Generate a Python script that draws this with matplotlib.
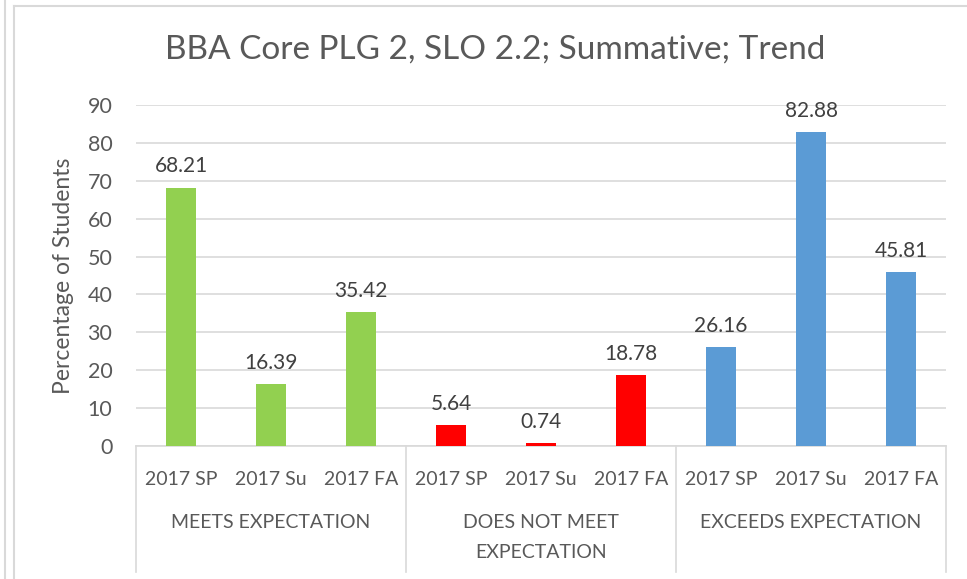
import matplotlib
matplotlib.use("Agg")
import matplotlib.pyplot as plt
from matplotlib.lines import Line2D
import numpy as np

plt.rcParams['font.family'] = ['Lato', 'DejaVu Sans']

# ------------------ DATA ------------------
groups = ["MEETS EXPECTATION", "DOES NOT MEET\nEXPECTATION", "EXCEEDS EXPECTATION"]
terms = ["2017 SP", "2017 Su", "2017 FA"]
meets = [68.21, 16.39, 35.42]
not_meet = [5.64, 0.74, 18.78]
exceeds = [26.16, 82.88, 45.81]
colors = ["#92D050", "#FF0000", "#5B9BD5"]
# ------------------------------------------

txt = "#595959"
grid = "#D9D9D9"

fig = plt.figure(figsize=(9.67, 5.79), dpi=100)
W, H = 967, 579
ax = fig.add_axes([136 / W, (H - 446) / H, (946 - 136) / W, (446 - 105) / H])

series = [meets, not_meet, exceeds]
x = 0
for vals, col in zip(series, colors):
    pos = np.arange(x, x + len(vals))
    bars = ax.bar(pos, vals, width=0.34, color=col, zorder=3)
    for b, v in zip(bars, vals):
        ax.annotate(f"{v:.2f}", (b.get_x() + b.get_width() / 2, v),
                    xytext=(0, 8), textcoords="offset points",
                    ha="center", va="bottom", fontsize=15, color="#404040")
    x += len(vals)

n = x
ax.set_xlim(-0.5, n - 0.5)
ax.set_ylim(0, 90)
ax.set_yticks(range(0, 91, 10))
ax.yaxis.grid(True, color=grid, linewidth=1.2, zorder=0)
ax.tick_params(axis="y", length=0, labelsize=15.5, labelcolor=txt, pad=17)
ax.set_xticks(range(n))
ax.set_xticklabels(terms * len(series), fontsize=14, color=txt)
ax.tick_params(axis="x", length=0, pad=18)
for s in ["top", "right", "left"]:
    ax.spines[s].set_visible(False)
ax.spines["bottom"].set_color(grid)
ax.spines["bottom"].set_linewidth(1.2)

ax.set_ylabel("Percentage of Students", fontsize=16.5, color=txt, labelpad=10)

# multi-level category axis
trans = ax.get_xaxis_transform()
bottom = -(572 - 446) / (446 - 105)
for k in range(len(series) + 1):
    xs = k * 3 - 0.5
    ax.add_line(Line2D([xs, xs], [0, bottom], transform=trans, color=grid,
                       linewidth=1.2, clip_on=False))
for k, g in enumerate(groups):
    ax.text(k * 3 + 1, -(514 - 446) / (446 - 105), g, transform=trans,
            ha="center", va="top", fontsize=14, color=txt, linespacing=1.9)

fig.text(495 / W, 1 - 50 / H, "BBA Core PLG 2, SLO 2.2; Summative; Trend",
         ha="center", va="center", fontsize=24, color=txt)

# chart border
fig.add_artist(Line2D([14 / W, 14 / W], [0, 1 - 6 / H], color=grid, linewidth=1.5))
fig.add_artist(Line2D([14 / W, 1], [1 - 6 / H, 1 - 6 / H], color=grid, linewidth=1.5))
fig.add_artist(Line2D([5 / W, 5 / W], [0, 1], color=grid, linewidth=1.5))

fig.savefig("out.png", dpi=100)
